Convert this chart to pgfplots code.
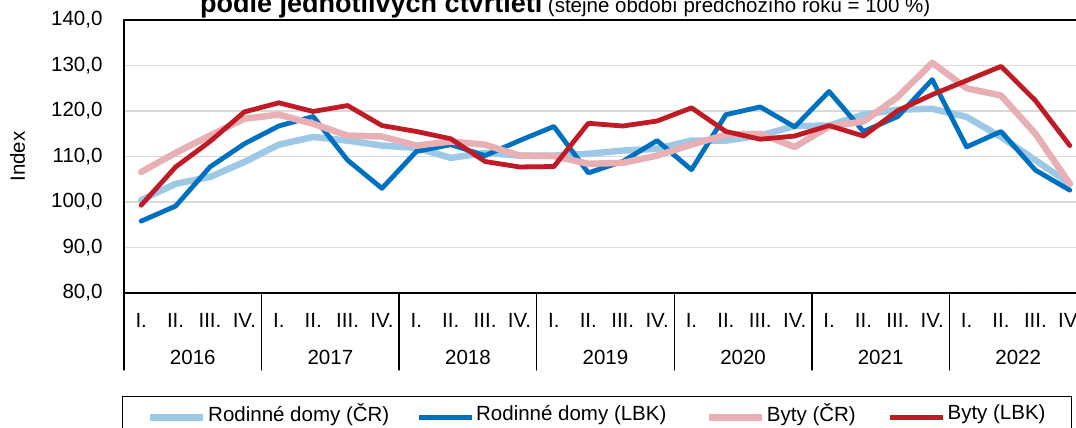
\documentclass[border=0pt]{standalone}
\usepackage{pgfplots}
\pgfplotsset{compat=1.18}
\usepackage{fontspec}
\setmainfont{Liberation Sans}
\definecolor{rdcr}{RGB}{157,200,230}
\definecolor{rdlbk}{RGB}{0,112,192}
\definecolor{bcr}{RGB}{232,176,180}
\definecolor{blbk}{RGB}{192,26,36}
\definecolor{gridgray}{RGB}{217,217,217}

\begin{document}
\begin{tikzpicture}[font=\fontsize{20.5}{24}\selectfont]
\useasboundingbox (0,-428pt) rectangle (1076pt,0pt);
\clip (0,-428pt) rectangle (1076pt,0pt);
\begin{axis}[
  at={(124pt,-293pt)}, anchor=south west,
  scale only axis, width=963pt, height=273pt,
  xmin=0.5, xmax=28.5, ymin=80, ymax=140,
  axis line style={black, line width=1.8pt},
  ytick={80,90,...,140},
  ymajorgrids, grid style={gridgray, line width=1.6pt},
  xtick={1,...,28},
  xticklabels={I.,II.,III.,IV.,I.,II.,III.,IV.,I.,II.,III.,IV.,I.,II.,III.,IV.,I.,II.,III.,IV.,I.,II.,III.,IV.,I.,II.,III.,IV.},
  extra x ticks={2.5,6.5,...,26.5},
  extra x tick labels={2016,2017,2018,2019,2020,2021,2022},
  extra x tick style={grid=none, x tick label style={yshift=-37pt}},
  minor xtick={0.5,4.5,...,28.5},
  minor tick length=77pt, major tick length=0pt,
  tick align=outside, xtick pos=bottom, ytick pos=left,
  minor x tick style={black, line width=1.3pt},
  x tick label style={anchor=center, text height=14pt, text depth=0pt, yshift=-27pt},
  y tick label style={xshift=-18pt, /pgf/number format/.cd, fixed, fixed zerofill, precision=1, use comma},
  /pgf/number format/assume math mode=true,
  ylabel={Index},
  ylabel style={at={(axis description cs:-0.1106,0.5)}, anchor=center},
  line join=round, line cap=round,
  legend columns=4,
  legend image code/.code={\draw[#1] (0pt,-4pt) -- (53pt,-4pt);},
  legend style={at={(axis description cs:-0.002,-0.377)}, anchor=north west,
    draw=black, line width=1.3pt, inner xsep=24pt, inner ysep=5pt,
    nodes={inner sep=2pt},
    /tikz/column 2/.style={column sep=25pt},
    /tikz/column 4/.style={column sep=37pt},
    /tikz/column 6/.style={column sep=30pt}},
]
\addplot[rdcr, line width=6.5pt] coordinates {
  (1,100.4) (2,104.0) (3,105.5) (4,108.8) (5,112.6) (6,114.3) (7,113.5)
  (8,112.4) (9,111.9) (10,109.7) (11,110.8) (12,110.2) (13,110.2) (14,110.6)
  (15,111.3) (16,111.7) (17,113.5) (18,113.5) (19,114.6) (20,116.7) (21,116.8)
  (22,119.2) (23,120.3) (24,120.5) (25,118.7) (26,114.3) (27,109.2) (28,104.0)
};
\addlegendentry{Rodinné domy (ČR)}
\addplot[rdlbk, line width=4.8pt] coordinates {
  (1,95.8) (2,99.1) (3,107.7) (4,112.8) (5,116.7) (6,118.8) (7,109.2)
  (8,103.0) (9,111.1) (10,112.6) (11,110.2) (12,113.5) (13,116.6) (14,106.4)
  (15,108.9) (16,113.5) (17,107.1) (18,119.2) (19,120.9) (20,116.5) (21,124.3)
  (22,115.5) (23,118.8) (24,126.9) (25,112.1) (26,115.5) (27,107.0) (28,102.6)
};
\addlegendentry{Rodinné domy (LBK)}
\addplot[bcr, line width=6.5pt] coordinates {
  (1,106.6) (2,110.8) (3,114.6) (4,118.3) (5,119.2) (6,117.2) (7,114.6)
  (8,114.4) (9,112.4) (10,113.3) (11,112.6) (12,110.2) (13,110.1) (14,108.4)
  (15,108.6) (16,110.2) (17,112.6) (18,114.8) (19,115.0) (20,112.1) (21,116.6)
  (22,117.7) (23,123.1) (24,130.6) (25,125.0) (26,123.4) (27,115.0) (28,104.0)
};
\addlegendentry{Byty (ČR)}
\addplot[blbk, line width=4.8pt] coordinates {
  (1,99.3) (2,107.7) (3,113.3) (4,119.8) (5,121.8) (6,119.9) (7,121.2)
  (8,116.8) (9,115.5) (10,113.9) (11,108.9) (12,107.7) (13,107.8) (14,117.3)
  (15,116.7) (16,117.8) (17,120.7) (18,115.5) (19,113.8) (20,114.5) (21,116.8)
  (22,114.5) (23,120.1) (24,123.6) (25,126.7) (26,129.8) (27,122.3) (28,112.4)
};
\addlegendentry{Byty (LBK)}
\end{axis}
\node[anchor=base west, inner sep=0pt] at (200pt,-13pt)
  {{\bfseries\fontsize{27}{30}\selectfont podle jednotlivých čtvrtletí}\ (stejné období předchozího roku = 100~\%)};
\end{tikzpicture}
\end{document}
